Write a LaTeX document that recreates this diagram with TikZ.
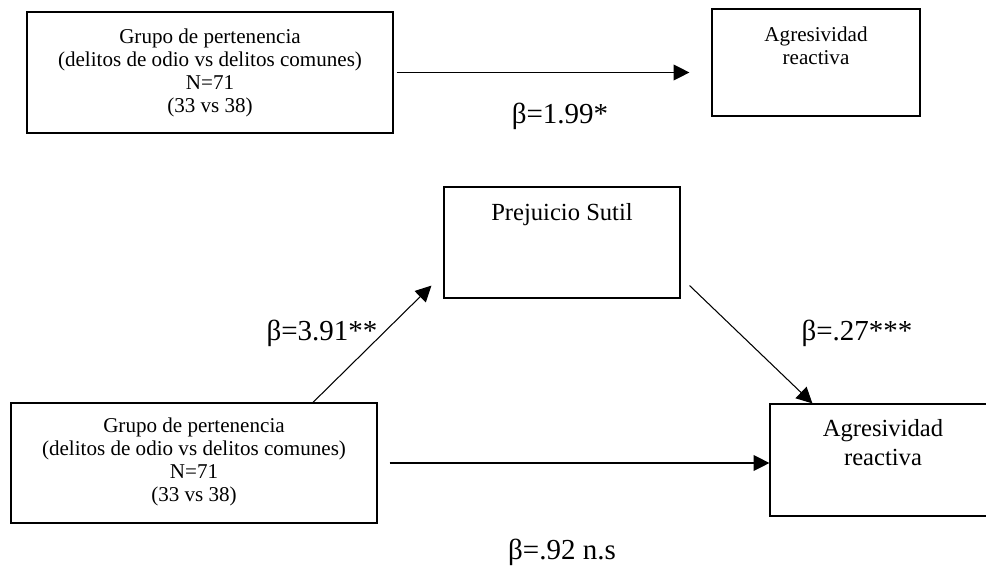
\documentclass[tikz,border=0pt]{standalone}
\usepackage{fontspec}
\setmainfont{Liberation Serif}
\usetikzlibrary{arrows.meta}

\begin{document}
\begin{tikzpicture}[x=0.02cm, y=-0.02cm,
    caja/.style={draw, line width=0.7pt, inner sep=0pt},
    texto/.style={anchor=north, align=center, inner sep=0pt, font=\fontsize{12}{13}\selectfont},
    textog/.style={texto, font=\fontsize{14}{16.4}\selectfont},
    flecha/.style={line width=0.6pt, -{Triangle[length=9pt, width=9pt]}},
    coef/.style={anchor=base, inner sep=0pt, font=\fontsize{16.5}{19}\selectfont}]
    \useasboundingbox (0,0) rectangle (986,568);

    % efecto total
    \node[caja, minimum width=7.32cm, minimum height=2.42cm] at (210,72.5) (grupoA) {};
    \node[caja, minimum width=4.16cm, minimum height=2.14cm] at (816,62.5) (agresA) {};
    \node[texto] at (210,29) (grupoAtxt) {Grupo de pertenencia\\(delitos de odio vs delitos comunes)\\N=71\\(33 vs 38)};
    \node[texto] at (816,27) (agresAtxt) {Agresividad\\reactiva};

    % modelo de mediacion
    \node[caja, minimum width=4.72cm, minimum height=2.22cm] at (562,242.5) (prejuicio) {};
    \node[caja, minimum width=7.32cm, minimum height=2.40cm] at (194,463) (grupoB) {};
    \node[caja, minimum width=4.52cm, minimum height=2.24cm] at (883,460) (agresB) {};
    \node[textog] at (562,203) (prejuiciotxt) {Prejuicio Sutil};
    \node[texto] at (194,418) (grupoBtxt) {Grupo de pertenencia\\(delitos de odio vs delitos comunes)\\N=71\\(33 vs 38)};
    \node[textog] at (883,419) (agresBtxt) {Agresividad\\reactiva};

    \node[coef] at (560,123) (b1) {β=1.99*};
    \node[coef] at (322,340) (b2) {β=3.91**};
    \node[coef] at (857,340) (b3) {β=.27***};
    \node[coef] at (562,559) (b4) {β=.92 n.s};

    \draw[flecha, shorten <=0.06cm, shorten >=0.44cm] (grupoA.east) -- (grupoA.east -| agresA.west);
    \draw[flecha] ([xshift=2.38cm]grupoB.north) -- ([xshift=-0.24cm, yshift=0.26cm]prejuicio.south west);
    \draw[flecha] ([xshift=0.18cm, yshift=0.26cm]prejuicio.south east) -- ([xshift=0.86cm]agresB.north west);
    \draw[flecha, shorten <=0.24cm] (grupoB.east) -- (grupoB.east -| agresB.west);
\end{tikzpicture}
\end{document}
